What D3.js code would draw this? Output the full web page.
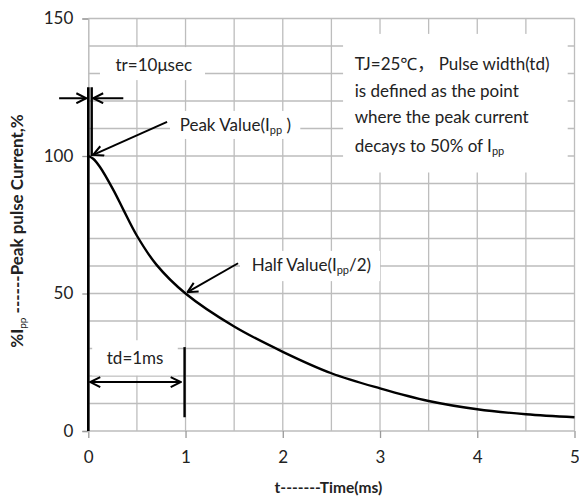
<!DOCTYPE html>
<html>
<head>
<meta charset="utf-8">
<script src="https://cdn.jsdelivr.net/npm/d3@7"></script>
<style>
  body { margin: 0; background: #fff; }
  #chart { width: 579px; height: 499px; }
  text { font-family: Lato, "Noto Sans", "Noto Sans CJK SC", sans-serif; fill: #222; }
</style>
</head>
<body>
<div id="chart"></div>
<script>
// curve: time (ms) and % of Ipp
var times  = [0, 0.05, 0.12, 0.26, 0.36, 0.5, 0.70, 1.0, 1.5, 2.0, 2.5, 3.0, 3.5, 4.0, 4.5, 5.0];
var values = [100, 99, 96, 87.5, 80.5, 71, 60.5, 50, 38, 28.8, 21, 15.5, 10.9, 7.9, 6.1, 5.0];

var xTicks = [0, 1, 2, 3, 4, 5];
var yTicks = [0, 50, 100, 150];

// annotation arrows, in data units [t0, v0, t1, v1]
var arrows = [
  [-0.30, 121, -0.02, 121],
  [0.36, 121, 0.05, 121],
  [0.81, 112.4, 0.05, 100.4],
  [1.54, 61, 1.02, 50.5]
];
var noteLines = ["TJ=25\u2103\uFF0C  Pulse width(td)", "is defined as the point", "where the peak current"];

var margin = { top: 18.5, right: 4.5, bottom: 68, left: 88.3 },
  width = 579 - margin.left - margin.right,
  height = 499 - margin.top - margin.bottom;

var svg = d3.select("#chart")
  .append("svg")
  .attr("width", 579)
  .attr("height", 499)
  .append("g")
  .attr("transform", "translate(" + margin.left + "," + margin.top + ")");

var x = d3.scaleLinear().domain([0, 5]).range([0, width]);
var y = d3.scaleLinear().domain([0, 150]).range([height, 0]);

var grid = "#bdbdbd";

// grid
svg.append("g").selectAll("line")
  .data(d3.range(0.5, 5.01, 0.5))
  .enter().append("line")
  .attr("x1", function (d) { return x(d); })
  .attr("x2", function (d) { return x(d); })
  .attr("y1", 0).attr("y2", height)
  .attr("stroke", grid).attr("stroke-width", 1.3);
svg.append("g").selectAll("line")
  .data(d3.range(10, 151, 10))
  .enter().append("line")
  .attr("x1", 0).attr("x2", width)
  .attr("y1", function (d) { return y(d); })
  .attr("y2", function (d) { return y(d); })
  .attr("stroke", grid).attr("stroke-width", 1.3);

// axes
var xAxis = svg.append("g")
  .attr("transform", "translate(0," + height + ")")
  .call(d3.axisBottom(x).tickValues(xTicks).tickSize(7).tickPadding(13).tickFormat(d3.format("d")));
var yAxis = svg.append("g")
  .call(d3.axisLeft(y).tickValues(yTicks).tickSize(6).tickPadding(9));
[xAxis, yAxis].forEach(function (a) {
  a.select(".domain").attr("stroke", grid).attr("stroke-width", 1.5);
  a.selectAll(".tick line").attr("stroke", "#999").attr("stroke-width", 1.3);
  a.selectAll(".tick text").style("font-size", "17px").style("font-family", "Lato, sans-serif").attr("fill", "#2a2f3a");
});
xAxis.select(".domain").attr("d", "M0,0H" + width);

// white label backgrounds
var boxes = [
  [0.12, 139.6, 1.2, 127.6],
  [0.84, 116.4, 2.18, 106.2],
  [1.56, 65.5, 3.0, 54.5],
  [0.04, 33.0, 0.92, 20.2],
  [2.62, 144.4, 4.93, 94]
];
svg.append("g").selectAll("rect")
  .data(boxes)
  .enter().append("rect")
  .attr("x", function (d) { return x(d[0]); })
  .attr("y", function (d) { return y(d[1]); })
  .attr("width", function (d) { return x(d[2]) - x(d[0]); })
  .attr("height", function (d) { return y(d[3]) - y(d[1]); })
  .attr("fill", "#fff");

// pulse: rising edge + tr marker
svg.append("line")
  .attr("x1", x(0)).attr("x2", x(0)).attr("y1", y(0)).attr("y2", y(125))
  .attr("stroke", "#000").attr("stroke-width", 2.6);
svg.append("line")
  .attr("x1", x(0.035)).attr("x2", x(0.035)).attr("y1", y(100)).attr("y2", y(125))
  .attr("stroke", "#000").attr("stroke-width", 2.4);

// decay curve
var line = d3.line()
  .x(function (d) { return x(d[0]); })
  .y(function (d) { return y(d[1]); })
  .curve(d3.curveCatmullRom);
svg.append("path")
  .datum(d3.zip(times, values))
  .attr("d", line)
  .attr("fill", "none")
  .attr("stroke", "#000")
  .attr("stroke-width", 2.4);

// arrow heads
var defs = svg.append("defs");
defs.append("marker")
  .attr("id", "head")
  .attr("viewBox", "0 0 12 12")
  .attr("refX", 11).attr("refY", 6)
  .attr("markerWidth", 12).attr("markerHeight", 12)
  .attr("markerUnits", "userSpaceOnUse")
  .attr("orient", "auto-start-reverse")
  .append("path")
  .attr("d", "M1,1L11,6L1,11")
  .attr("fill", "none").attr("stroke", "#000").attr("stroke-width", 2);

svg.append("g").selectAll("line")
  .data(arrows)
  .enter().append("line")
  .attr("x1", function (d) { return x(d[0]); })
  .attr("y1", function (d) { return y(d[1]); })
  .attr("x2", function (d) { return x(d[2]); })
  .attr("y2", function (d) { return y(d[3]); })
  .attr("stroke", "#000").attr("stroke-width", 2)
  .attr("marker-end", "url(#head)");

// td double arrow and marker line
svg.append("line")
  .attr("x1", x(0.02)).attr("x2", x(0.95)).attr("y1", y(17.8)).attr("y2", y(17.8))
  .attr("stroke", "#000").attr("stroke-width", 2)
  .attr("marker-start", "url(#head)").attr("marker-end", "url(#head)");
svg.append("line")
  .attr("x1", x(0.99)).attr("x2", x(0.99)).attr("y1", y(30.5)).attr("y2", y(5))
  .attr("stroke", "#000").attr("stroke-width", 2.4);

// labels
function label(t, v, txt) {
  return svg.append("text")
    .attr("x", x(t)).attr("y", y(v))
    .attr("dy", "0.35em")
    .style("font-size", "17px")
    .text(txt);
}
label(0.28, 133, "tr=10\u03BCsec");
label(0.19, 26.5, "td=1ms");

var pk = label(0.94, 111.3, "Peak Value(I");
pk.append("tspan").attr("dy", "3").style("font-size", "11px").text("pp");
pk.append("tspan").attr("dy", "-3").text(" )");

var hv = label(1.68, 60.4, "Half Value(I");
hv.append("tspan").attr("dy", "3").style("font-size", "11px").text("pp");
hv.append("tspan").attr("dy", "-3").text("/2)");

noteLines.forEach(function (s, i) {
  label(2.74, 133.5 - i * 9.7, s);
});
var last = label(2.74, 133.5 - 3 * 10, "decays to 50% of I");
last.append("tspan").attr("dy", "3").style("font-size", "11px").text("pp");

// axis titles
svg.append("text")
  .attr("x", x(2.5) - 3).attr("y", height + 62)
  .attr("text-anchor", "middle")
  .style("font-size", "15.5px").style("font-weight", "bold")
  .text("t-------Time(ms)");

var yt = svg.append("text")
  .attr("transform", "translate(" + (-margin.left + 23) + "," + (231 - margin.top) + ") rotate(-90)")
  .attr("text-anchor", "middle")
  .style("font-size", "17px").style("font-weight", "bold");
yt.append("tspan").text("%I");
yt.append("tspan").attr("dy", "3").style("font-size", "10px").style("font-weight", "normal").text("pp");
yt.append("tspan").attr("dy", "-3").text(" ------Peak pulse Current,%");
</script>
</body>
</html>
